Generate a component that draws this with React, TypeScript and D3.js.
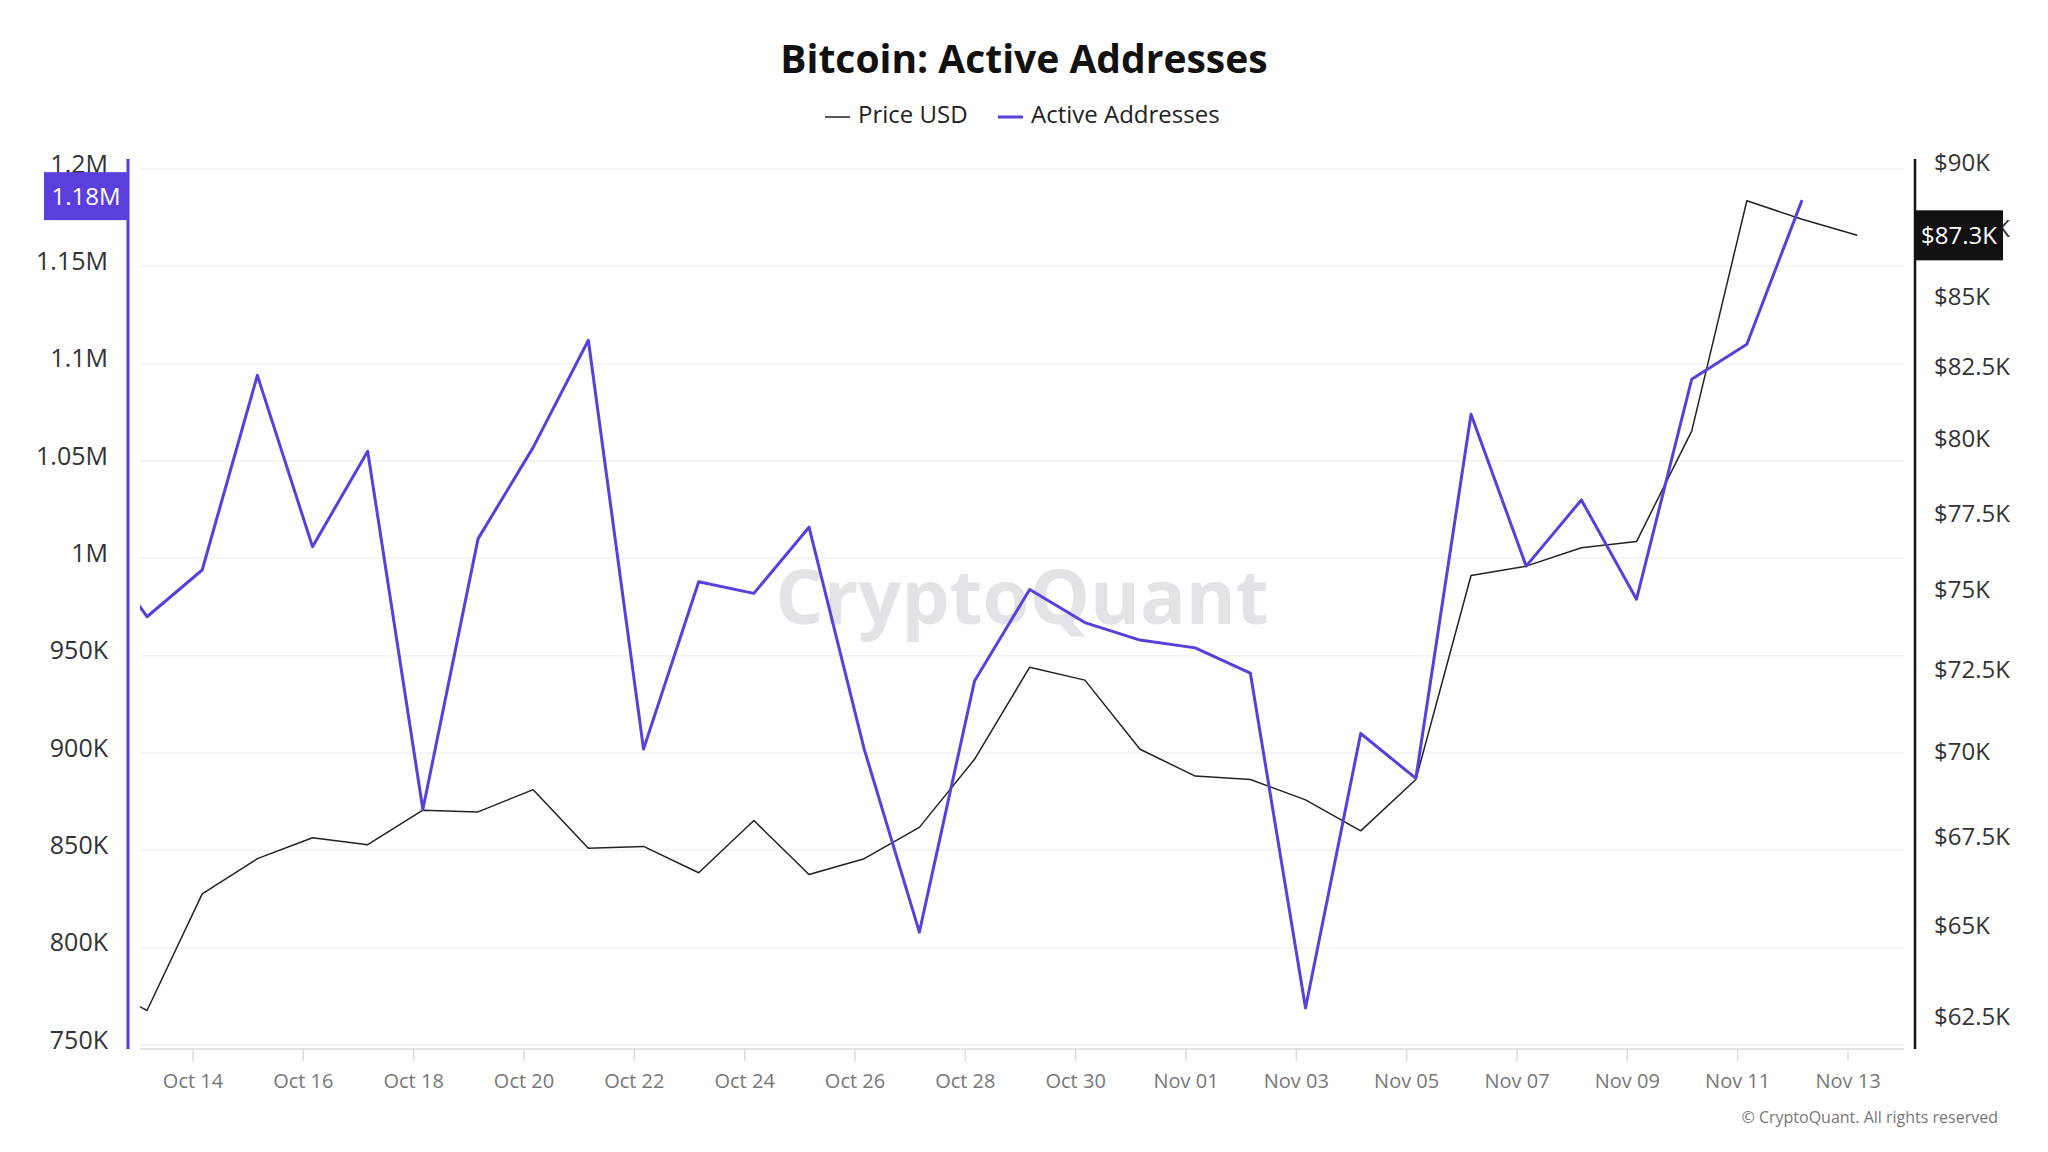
import React from "react";
import * as d3 from "d3";

const dates: string[] = [
  "2024-10-12","2024-10-13","2024-10-14","2024-10-15","2024-10-16","2024-10-17","2024-10-18",
  "2024-10-19","2024-10-20","2024-10-21","2024-10-22","2024-10-23","2024-10-24","2024-10-25",
  "2024-10-26","2024-10-27","2024-10-28","2024-10-29","2024-10-30","2024-10-31","2024-11-01",
  "2024-11-02","2024-11-03","2024-11-04","2024-11-05","2024-11-06","2024-11-07","2024-11-08",
  "2024-11-09","2024-11-10","2024-11-11","2024-11-12","2024-11-13",
];

const activeAddresses: (number | null)[] = [
  1010000, 970000, 994000, 1094000, 1006000, 1055000, 871000,
  1010000, 1057000, 1112000, 902000, 988000, 982000, 1016000,
  902000, 808000, 937000, 984000, 967000, 958000, 954000,
  941000, 769000, 910000, 887000, 1074000, 996000, 1030000,
  979000, 1092000, 1110000, 1184000, null,
];

const priceUSD: number[] = [
  63500, 62700, 65900, 66900, 67500, 67300, 68300,
  68250, 68900, 67200, 67250, 66500, 68000, 66450,
  66900, 67800, 69800, 72600, 72200, 70100, 69300,
  69200, 68600, 67700, 69200, 75500, 75800, 76400,
  76600, 80300, 88600, 87900, 87300,
];

const xTickDates: string[] = [
  "2024-10-14","2024-10-16","2024-10-18","2024-10-20","2024-10-22","2024-10-24","2024-10-26",
  "2024-10-28","2024-10-30","2024-11-01","2024-11-03","2024-11-05","2024-11-07","2024-11-09",
  "2024-11-11","2024-11-13",
];

const leftTicks: number[] = [750000, 800000, 850000, 900000, 950000, 1000000, 1050000, 1100000, 1150000, 1200000];
const leftTickLabels: string[] = ["750K", "800K", "850K", "900K", "950K", "1M", "1.05M", "1.1M", "1.15M", "1.2M"];
const rightTicks: number[] = [62500, 65000, 67500, 70000, 72500, 75000, 77500, 80000, 82500, 85000, 87500, 90000];
const rightTickLabels: string[] = ["$62.5K", "$65K", "$67.5K", "$70K", "$72.5K", "$75K", "$77.5K", "$80K", "$82.5K", "$85K", "$87.5K", "$90K"];

const PURPLE = "#5a3fdc";
const FONT = "'Open Sans', 'Noto Sans', sans-serif";

const parse = d3.utcParse("%Y-%m-%d");

export default function App() {
  const W = 2048, H = 1152;
  const plotL = 140, plotR = 1904, plotT = 150, plotB = 1049;

  const x = d3.scaleUtc()
    .domain([parse("2024-10-14")!, parse("2024-11-13")!])
    .range([193, 1848]);
  const yL = d3.scaleLinear().domain([750000, 1200000]).range([1045, 169]);
  const yR = d3.scaleLog().domain([62500, 90000]).range([1018, 164]);

  const pts = dates.map((d, i) => ({
    t: d3.utcHour.offset(parse(d)!, 4),
    aa: activeAddresses[i],
    p: priceUSD[i],
  }));

  const aaLine = d3.line<any>()
    .defined((d) => d.aa != null)
    .x((d) => x(d.t))
    .y((d) => yL(d.aa));
  const pLine = d3.line<any>()
    .x((d) => x(d.t))
    .y((d) => yR(d.p));

  const lastAA = pts.filter((d) => d.aa != null).slice(-1)[0];
  const lastP = pts[pts.length - 1];
  const fmtAA = (v: number) => (v / 1e6).toFixed(2) + "M";
  const fmtP = (v: number) => "$" + (v / 1000).toFixed(1) + "K";

  return (
    <svg width={W} height={H} viewBox={`0 0 ${W} ${H}`} style={{ display: "block", background: "#fff", margin: "-8px" }}>
      <defs>
        <clipPath id="plotclip">
          <rect x={plotL} y={plotT} width={plotR - plotL} height={plotB - plotT} />
        </clipPath>
      </defs>
      <rect x={0} y={0} width={W} height={H} fill="#fff" />

      {/* title */}
      <text x={1024} y={73} textAnchor="middle" fontFamily={FONT} fontWeight={700} fontSize={39} fill="#111">
        Bitcoin: Active Addresses
      </text>

      {/* legend */}
      <line x1={825} x2={850} y1={117} y2={117} stroke="#222" strokeWidth={1.5} />
      <text x={858} y={123} fontFamily={FONT} fontSize={24} fill="#222">Price USD</text>
      <line x1={998} x2={1023} y1={117} y2={117} stroke={PURPLE} strokeWidth={3} />
      <text x={1031} y={123} fontFamily={FONT} fontSize={24} fill="#222">Active Addresses</text>

      {/* grid */}
      {leftTicks.map((v) => (
        <line key={"g" + v} x1={plotL} x2={plotR} y1={yL(v)} y2={yL(v)} stroke="#f1f1f3" strokeWidth={1.5} />
      ))}

      {/* watermark */}
      <text x={1022} y={624} textAnchor="middle" fontFamily={FONT} fontWeight={700} fontSize={76} fill="#e3e3e7">
        CryptoQuant
      </text>

      {/* x axis */}
      <line x1={plotL} x2={plotR} y1={plotB} y2={plotB} stroke="#e2e2e2" strokeWidth={2} />
      {xTickDates.map((d) => {
        const t = parse(d)!;
        const xx = x(t);
        return (
          <g key={d}>
            <line x1={xx} x2={xx} y1={plotB} y2={plotB + 12} stroke="#dcdcdc" strokeWidth={1.5} />
            <text x={xx} y={1088} textAnchor="middle" fontFamily={FONT} fontSize={20} fill="#777">
              {d3.utcFormat("%b %d")(t)}
            </text>
          </g>
        );
      })}

      {/* left axis */}
      {leftTicks.map((v, i) => (
        <text key={"l" + v} x={108} y={yL(v) - 5} dy="0.35em" textAnchor="end" fontFamily={FONT} fontSize={25} fill="#333">
          {leftTickLabels[i]}
        </text>
      ))}
      <line x1={128} x2={128} y1={159} y2={1049} stroke={PURPLE} strokeWidth={3} />

      {/* right axis */}
      {rightTicks.map((v, i) => (
        <text key={"r" + v} x={1934} y={yR(v) - 1} dy="0.35em" textAnchor="start" fontFamily={FONT} fontSize={24} fill="#333">
          {rightTickLabels[i]}
        </text>
      ))}
      <line x1={1915} x2={1915} y1={159} y2={1049} stroke="#111" strokeWidth={2.5} />

      {/* series */}
      <g clipPath="url(#plotclip)">
        <path d={pLine(pts) || ""} fill="none" stroke="#222" strokeWidth={1.5} strokeLinejoin="round" />
        <path d={aaLine(pts) || ""} fill="none" stroke={PURPLE} strokeWidth={3} strokeLinejoin="round" />
      </g>

      {/* last value badges */}
      <rect x={44} y={yL(lastAA.aa as number) - 4 - 24} width={84} height={48} fill={PURPLE} />
      <text x={86} y={yL(lastAA.aa as number) - 4} dy="0.35em" textAnchor="middle" fontFamily={FONT} fontSize={24} fill="#fff">
        {fmtAA(lastAA.aa as number)}
      </text>
      <rect x={1915} y={yR(lastP.p) - 25} width={88} height={50} fill="#111" />
      <text x={1959} y={yR(lastP.p)} dy="0.35em" textAnchor="middle" fontFamily={FONT} fontSize={24} fill="#fff">
        {fmtP(lastP.p)}
      </text>

      {/* copyright */}
      <text x={1998} y={1123} textAnchor="end" fontFamily={FONT} fontSize={16} fill="#777">
        © CryptoQuant. All rights reserved
      </text>
    </svg>
  );
}
